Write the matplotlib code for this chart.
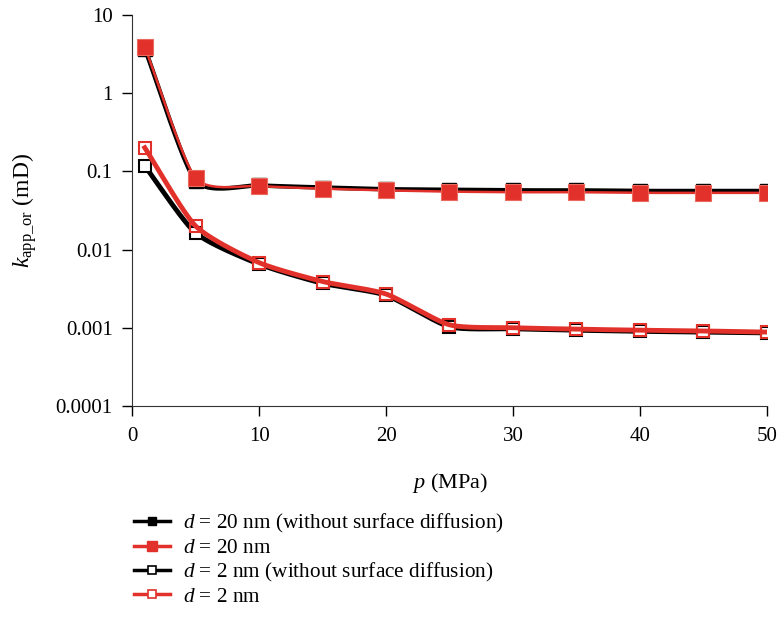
import numpy as np
import matplotlib
matplotlib.use("Agg")
import matplotlib.pyplot as plt
from matplotlib.ticker import FixedLocator, FixedFormatter, NullLocator
from matplotlib.lines import Line2D

# data
p = [1, 5, 10, 15, 20, 25, 30, 35, 40, 45, 50]
k20_nosd = [3.7, 0.076, 0.066, 0.062, 0.059, 0.058, 0.057, 0.057, 0.056, 0.056, 0.056]
k20 = [3.9, 0.082, 0.065, 0.060, 0.057, 0.055, 0.054, 0.054, 0.053, 0.053, 0.053]
k2_nosd = [0.117, 0.0163, 0.0065, 0.0037, 0.0026, 0.00103, 0.00097, 0.00093, 0.00090, 0.00088, 0.00086]
k2 = [0.20, 0.020, 0.0068, 0.0039, 0.0027, 0.00109, 0.00100, 0.00096, 0.00093, 0.00091, 0.00088]

labels = [r"$d$ = 20 nm (without surface diffusion)", r"$d$ = 20 nm",
          r"$d$ = 2 nm (without surface diffusion)", r"$d$ = 2 nm"]
yticks = [1e-4, 1e-3, 1e-2, 1e-1, 1, 10]
ytick_labels = ["0.0001", "0.001", "0.01", "0.1", "1", "10"]

RED = "#e2312a"

plt.rcParams["font.family"] = ["Liberation Serif", "DejaVu Serif"]
plt.rcParams["mathtext.fontset"] = "custom"
plt.rcParams["mathtext.rm"] = "Liberation Serif"
plt.rcParams["mathtext.it"] = "Liberation Serif:italic"
plt.rcParams["font.size"] = 15


def smooth(x, y, n=24, tension=0.35):
    # cardinal spline through the points in (x, log y), like a smoothed line
    x = np.asarray(x, float)
    ly = np.log10(np.asarray(y, float))
    px = np.concatenate([[2 * x[0] - x[1]], x, [2 * x[-1] - x[-2]]])
    py = np.concatenate([[2 * ly[0] - ly[1]], ly, [2 * ly[-1] - ly[-2]]])
    s = (1 - tension) / 2
    t = np.linspace(0, 1, n, endpoint=False)
    h00 = 2 * t ** 3 - 3 * t ** 2 + 1
    h10 = t ** 3 - 2 * t ** 2 + t
    h01 = -2 * t ** 3 + 3 * t ** 2
    h11 = t ** 3 - t ** 2
    xs, ys = [], []
    for i in range(1, len(px) - 2):
        for arr, out in ((px, xs), (py, ys)):
            p0, p1, p2, p3 = arr[i - 1:i + 3]
            m1 = s * (p2 - p0)
            m2 = s * (p3 - p1)
            out.extend(h00 * p1 + h10 * m1 + h01 * p2 + h11 * m2)
    xs.append(x[-1])
    ys.append(ly[-1])
    return np.array(xs), 10 ** np.array(ys)


fig = plt.figure(figsize=(7.77, 6.17), dpi=100)
ax = fig.add_axes([0.170, 0.342, 0.817, 0.634])

# d = 20 nm
sx, sy = smooth(p, k20_nosd)
ax.plot(sx, sy, color="black", lw=3.2, zorder=2)
ax.plot(p, k20_nosd, ls="none", marker="s", ms=10, color="black", zorder=3)
sx, sy = smooth(p, k20)
ax.plot(sx, sy, color=RED, lw=1.8, zorder=4)
ax.plot(p, k20, ls="none", marker="s", ms=11, color=RED, mec="#ea6a60", mew=0.8, zorder=5)

# d = 2 nm
sx, sy = smooth(p, k2_nosd)
ax.plot(sx, sy, color="black", lw=3.5, zorder=2)
ax.plot(p, k2_nosd, ls="none", marker="s", ms=9, mfc="white", mec="black", mew=1.5, zorder=3)
sx, sy = smooth(p, k2)
ax.plot(sx, sy, color=RED, lw=3.5, zorder=4)
ax.plot(p, k2, ls="none", marker="s", ms=9, mfc="none", mec=RED, mew=1.5, zorder=5)

ax.set_yscale("log")
ax.set_xlim(0, 50)
ax.set_ylim(1e-4, 10)
ax.set_xticks([0, 10, 20, 30, 40, 50])
ax.yaxis.set_major_locator(FixedLocator(yticks))
ax.yaxis.set_major_formatter(FixedFormatter(ytick_labels))
ax.yaxis.set_minor_locator(NullLocator())
ax.tick_params(direction="out", length=7, width=1, labelsize=15)
ax.tick_params(axis="y", pad=7)
ax.tick_params(axis="x", pad=8)
for s in ("top", "right"):
    ax.spines[s].set_visible(False)
for s in ("left", "bottom"):
    ax.spines[s].set_color("#333333")

ax.set_xlabel(r"$p$ (MPa)", fontsize=16, labelpad=18)
ax.set_ylabel(r"$k_{\mathrm{app\_or}}$ (mD)", fontsize=17, labelpad=12)

handles = [
    Line2D([], [], color="black", lw=2.5, marker="s", ms=6, mfc="black", mec="black"),
    Line2D([], [], color=RED, lw=2.5, marker="s", ms=7, mfc=RED, mec=RED),
    Line2D([], [], color="black", lw=2.5, marker="s", ms=6, mfc="white", mec="black", mew=1.2),
    Line2D([], [], color=RED, lw=2.5, marker="s", ms=6, mfc="white", mec=RED, mew=1.2),
]
fig.legend(handles, labels, loc="upper left", bbox_to_anchor=(0.172, 0.170),
           frameon=False, fontsize=15.3, handlelength=1.7, handletextpad=0.6,
           labelspacing=0.14, borderaxespad=0, borderpad=0, numpoints=1)

fig.savefig("out.png", dpi=100)
